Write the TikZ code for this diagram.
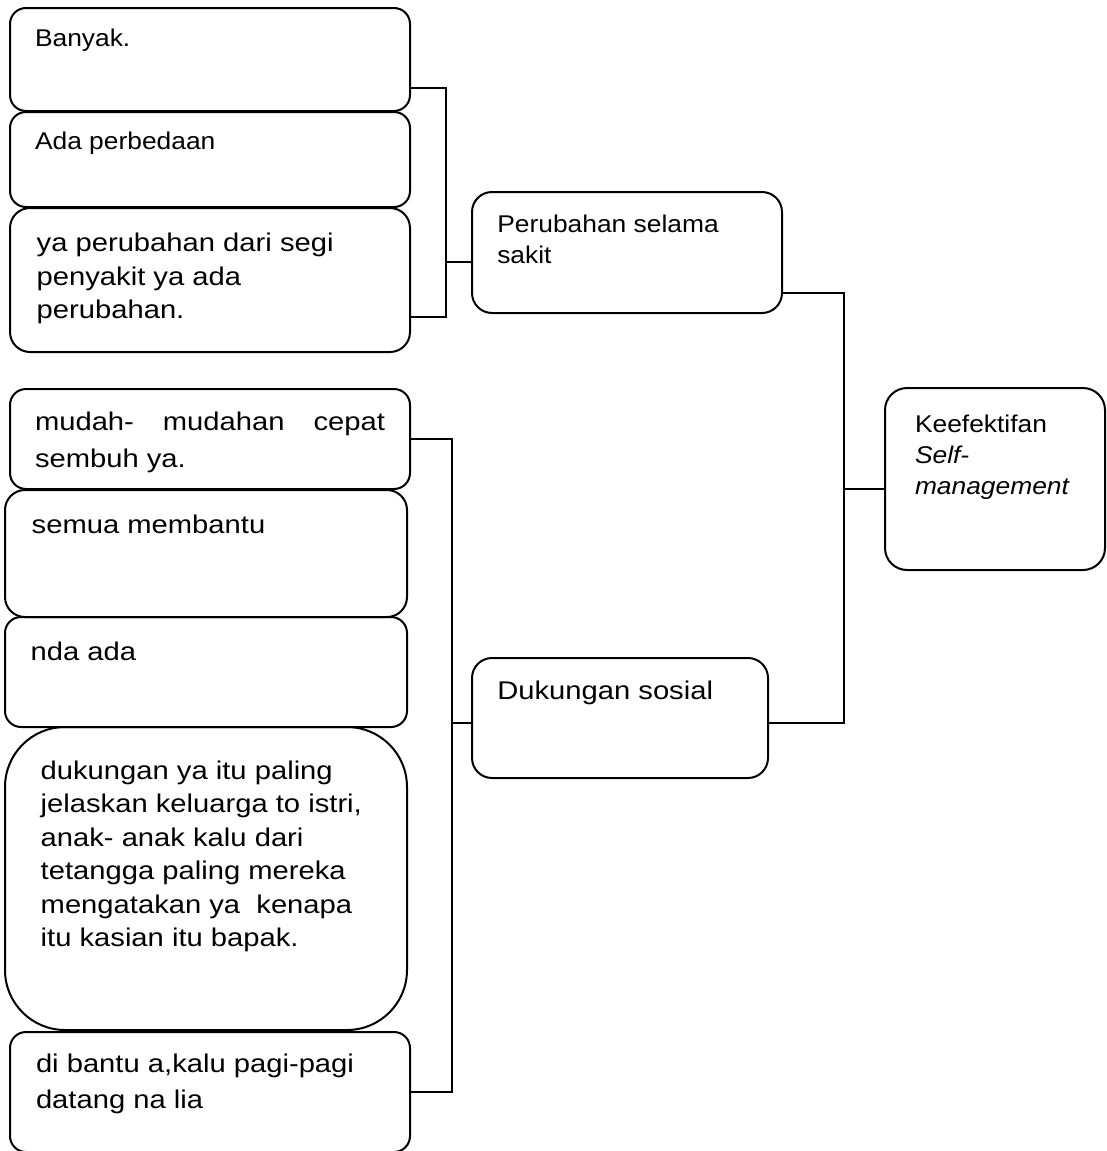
\documentclass[tikz,border=0pt]{standalone}
\usepackage{fontspec}
\setmainfont{Liberation Sans}
\newfontfamily\smallfam[FakeStretch=1.09]{Liberation Sans}
\newfontfamily\bigfam[FakeStretch=1.14]{Liberation Sans}
\usetikzlibrary{positioning}

\newcommand{\celltext}[3]{\parbox[t][#2][t]{#1}{\raggedright #3}}
\newcommand{\smallsize}{\smallfam\fontsize{24.2pt}{30.6pt}\selectfont}
\newcommand{\bigsize}{\bigfam\fontsize{25.6pt}{33.5pt}\selectfont}

\begin{document}
\begin{tikzpicture}[x=1pt, y=-1pt,
  cell/.style={draw, line width=2pt, rounded corners=16pt, anchor=north west, inner sep=0pt, outer sep=0pt},
  smalltext/.style={font=\smallsize},
  bigtext/.style={font=\bigsize},
  link/.style={line width=1.3pt}
]
\useasboundingbox (0,0) rectangle (1106,1151);

% upper group
\node[cell, smalltext, inner xsep=25pt, inner ysep=21.3pt] (banyak) at (10,8) {\celltext{350pt}{60.4pt}{Banyak.}};
\node[cell, smalltext, inner xsep=25pt, inner ysep=19.7pt, below right=1pt and 0pt of banyak.south west] (beda) {\celltext{350pt}{55.6pt}{Ada perbedaan}};
\node[cell, bigtext, rounded corners=20pt, inner xsep=26.7pt, inner ysep=25.3pt, below right=1pt and 0pt of beda.south west] (segi) {\celltext{346.6pt}{93.4pt}{ya perubahan dari segi\\ penyakit ya ada\\ perubahan.}};
\node[cell, smalltext, rounded corners=20pt, inner xsep=25.3pt, inner ysep=23pt] (perubahan) at (472,192) {\celltext{259.4pt}{75pt}{Perubahan selama\\ sakit}};

% lower group
\node[cell, font={\bigfam\fontsize{25.6pt}{37.3pt}\selectfont}, inner xsep=25pt, inner ysep=22.7pt] (mudah) at (10,389) {\celltext{350pt}{54.6pt}{\makebox[\linewidth][s]{mudah- mudahan cepat}\\ sembuh ya.}};
\node[cell, bigtext, rounded corners=20pt, inner xsep=26.7pt, inner ysep=24.9pt, below right=1pt and -5pt of mudah.south west] (semua) {\celltext{348.6pt}{77.2pt}{semua membantu}};
\node[cell, bigtext, inner xsep=25.7pt, inner ysep=24.7pt, below right=0pt and 0pt of semua.south west] (nda) {\celltext{350.6pt}{60.6pt}{nda ada}};
\node[cell, bigtext, rounded corners=60pt, inner xsep=35.7pt, inner ysep=33.9pt, below right=0pt and 0pt of nda.south west] (kasian) {\celltext{330.6pt}{235.2pt}{dukungan ya itu paling\\ jelaskan keluarga to istri,\\ anak- anak kalu dari\\ tetangga paling mereka\\ mengatakan ya~ kenapa\\ itu kasian itu bapak.}};
\node[cell, font={\bigfam\fontsize{25.6pt}{35.6pt}\selectfont}, inner xsep=26pt, inner ysep=22.3pt, below right=2pt and 5pt of kasian.south west] (datang) {\celltext{348pt}{75.4pt}{di bantu a,kalu pagi-pagi\\ datang na lia}};
\node[cell, bigtext, rounded corners=20pt, inner xsep=25.3pt, inner ysep=23.3pt] (dukungan) at (472,658) {\celltext{245.4pt}{73.4pt}{Dukungan sosial}};

% result
\node[cell, smalltext, rounded corners=22pt, inner xsep=30pt, inner ysep=27.4pt] (keef) at (885,388) {\celltext{160pt}{127.2pt}{Keefektifan\\ \textit{Self-}\\ \textit{management}}};

% brackets
\coordinate (j1) at (446,262);
\coordinate (j2) at (452,723);
\coordinate (j3) at (844,489);
\draw[link] ([yshift=-28.5pt]banyak.east) -| (j1) |- ([yshift=-37pt]segi.east);
\draw[link] (j1) -- (j1 -| perubahan.west);
\draw[link] (mudah.east) -| (j2) |- (datang.east);
\draw[link] (j2) -- (j2 -| dukungan.west);
\draw[link] ([yshift=-40.5pt]perubahan.east) -| (j3) |- (j2 -| dukungan.east);
\draw[link] (j3) -- (j3 -| keef.west);
\end{tikzpicture}
\end{document}
